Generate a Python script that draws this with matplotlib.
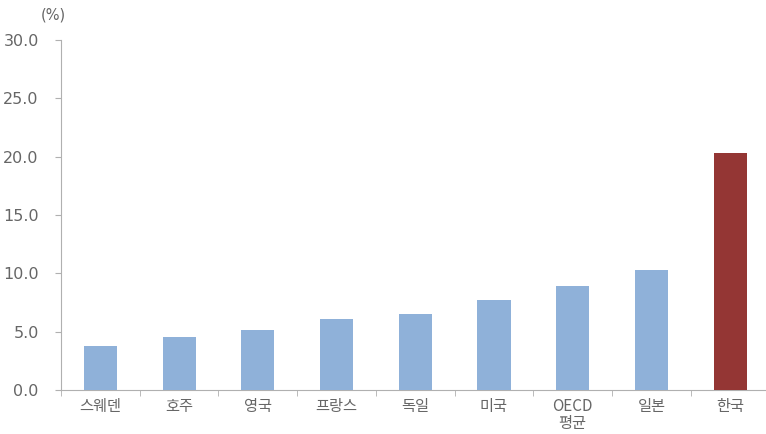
import matplotlib
matplotlib.use("Agg")
import matplotlib.pyplot as plt
import numpy as np

plt.rcParams['font.family'] = ['Noto Sans CJK KR', 'DejaVu Sans']

# 데이터
paises = ["스웨덴", "호주", "영국", "프랑스", "독일", "미국", "OECD\n평균", "일본", "한국"]
valores = [3.8, 4.5, 5.1, 6.1, 6.5, 7.7, 8.9, 10.3, 20.3]
colores = ["#8FB1D9"] * 8 + ["#943634"]

gris = "#666666"
eje = "#B0B0B0"

fig = plt.figure(figsize=(7.66, 4.34), dpi=100)
ax = fig.add_axes([0.0796, 0.1014, 0.925, 0.8066])

x = np.arange(len(paises))
ax.bar(x, valores, width=0.42, color=colores, zorder=3)

ax.set_xlim(-0.5, len(paises) - 0.5)
ax.set_ylim(0, 30)
ax.set_yticks(np.arange(0, 31, 5))
ax.set_yticklabels([f"{v:.1f}" for v in np.arange(0, 31, 5)], color=gris,
                   fontsize=11.5, family="DejaVu Sans")
ax.tick_params(axis="y", length=4, color=eje, pad=12)

# etiquetas de categoría y ticks en los límites
ax.set_xticks(x)
ax.set_xticklabels(paises, color=gris, fontsize=11, linespacing=0.95)
ax.tick_params(axis="x", length=0, pad=6)
ax.set_xticks(np.arange(-0.5, len(paises), 1), minor=True)
ax.tick_params(axis="x", which="minor", length=4, color=eje)

for lado in ["top", "right"]:
    ax.spines[lado].set_visible(False)
ax.spines["left"].set_color(eje)
ax.spines["bottom"].set_color(eje)

fig.text(0.069, 0.966, "(%)", color=gris, fontsize=10.5, ha="center", va="center",
         family="DejaVu Sans")

fig.savefig("out.png", dpi=100)
